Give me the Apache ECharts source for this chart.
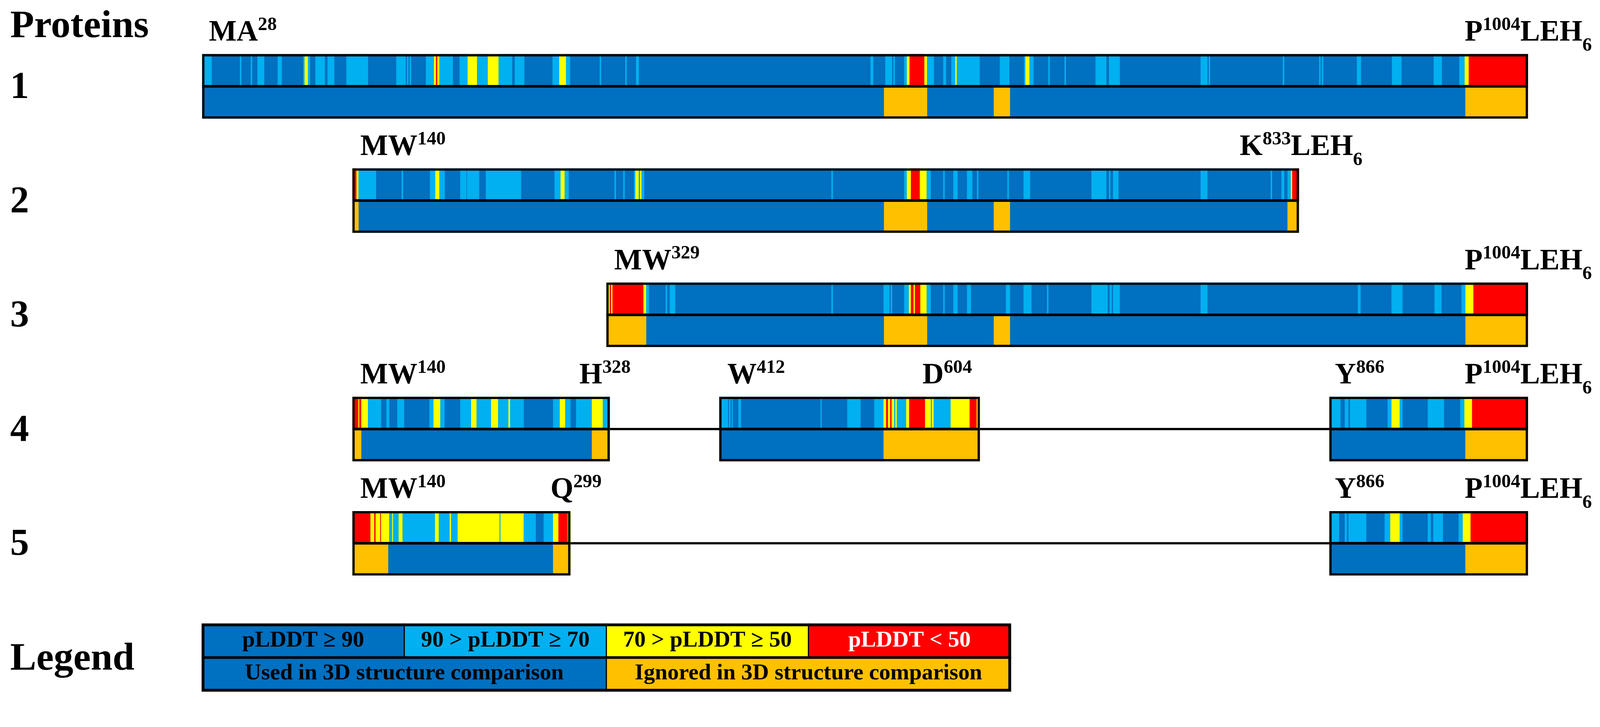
<!DOCTYPE html>
<html><head><meta charset="utf-8">
<script src="https://cdn.jsdelivr.net/npm/echarts@6/dist/echarts.min.js"></script>
<style>html,body{margin:0;padding:0;background:#fff;overflow:hidden;width:100%;height:100%}#c{width:100vw;height:100vh}</style>
</head><body><div id="c"></div>
<script>
// ---------------- DATA (residue numbers) ----------------
const rowTitles = ['1', '2', '3', '4', '5'];
// protein segments [start, end] per row
const segments1 = [[28, 1012]];
const segments2 = [[139.5, 842]];
const segments3 = [[328, 1012]];
const segments4 = [[139.5, 330.5], [411.8, 605.2], [864.6, 1012]];
const segments5 = [[139.5, 301.3], [864.6, 1012]];
// pLDDT stripes [start, end, level]  1: 90>p>=70, 2: 70>p>=50, 3: p<50 (rest is p>=90)
const plddt1 = [[28,35,1],[56,57,1],[64,65,1],[69,74,1],[84,87,1],[103,104,1],[104,106.5,2],[106.5,108,1],[112,119,1],[121,126,1],[135,151,1],[172,179,1],[180,181,1],[182,183,1],[194,200,1],[200,201.5,2],[201.5,202.5,3],[202.5,204,2],[204,214,1],[219,225,1],[225,232,2],[232,240,1],[240,248,2],[248,258,1],[260,267,1],[288,293,1],[293,298,2],[298,301,1],[323,324,1],[342,343,1],[350,352,1],[524,526,1],[535,540,1],[541,542,1],[549,551,1],[551,553,2],[553,564,3],[564,566,2],[566,571,1],[578,580,1],[584,587,1],[587,588,2],[588,605,1],[620,627,1],[638,639,1],[639,642,2],[642,645,1],[656,657,1],[668,669,1],[691,699,1],[701,709,1],[769,774,1],[775,776,1],[830,831,1],[857,858,1],[859,860,1],[885,888,1],[911,918,1],[942,948,1],[961,965,1],[965,968,2],[968,1012,3]];
const plddt2 = [[139.5,142.5,3],[142.5,144,2],[144,157,1],[176,177,1],[197,201,1],[201,204,2],[204,208,1],[219.5,224,1],[224.5,233.5,1],[238.5,264.6,1],[289.5,294,1],[294,297,2],[297,300,1],[334,335,1],[340.5,341.5,1],[348.5,349.5,1],[349.5,352,2],[352,353,1],[353,354,2],[354,356,1],[495,496,1],[549,551,1],[551,554,2],[554,560.6,3],[560.6,565.7,2],[565.7,568.7,1],[578,579,1],[585.5,588.6,1],[595.6,599.5,1],[603,604,1],[625.6,626.6,1],[637.6,642.4,1],[688,699,1],[701,702,1],[704,708,1],[769,774,1],[821,822,1],[829,831,1],[833.5,836,1],[836,837,2],[837,842,3]];
const plddt3 = [[328,330.5,2],[330.5,331.5,3],[331.5,332.5,2],[332.5,355.5,3],[355.5,357.5,2],[357.5,359.5,1],[372,373,1],[375,379,1],[495,496,1],[533.7,538,1],[539,540,1],[549,552.5,1],[552.5,554,2],[554,556,3],[556,557,2],[557,561,3],[561,565.7,2],[565.7,568.7,1],[578,579,1],[585.5,588.6,1],[595.6,598.5,1],[624.5,627.5,1],[637.6,643.4,1],[655,656,1],[688,700,1],[701.5,703,1],[704,709,1],[769,774,1],[885.7,887.7,1],[910.7,918.8,1],[942.6,947.7,1],[962.6,965.6,1],[965.6,971.5,2],[971.5,1012,3]];
const plddt4 = [[139.5,143.9,3],[143.9,144.6,2],[144.6,146,3],[146,151,2],[151,160.7,1],[164.7,166.8,1],[172.8,177.8,1],[196.6,199.7,1],[199.7,204.7,2],[204.7,207.8,1],[219.5,227.6,1],[227.6,231.6,2],[231.6,242.4,1],[242.4,247.6,2],[247.6,255.3,1],[255.3,256.5,2],[256.5,266.6,1],[288.4,293.4,1],[293.4,297.4,2],[297.4,301.3,1],[305.5,317.2,1],[317.2,325.3,2],[325.3,330.5,1],
  [411.8,418.2,1],[419,420.1,1],[421,421.7,1],[426,427.8,1],[486.9,487.7,1],[506.8,516.6,1],[526.8,533.7,1],[533.7,535.6,2],[535.6,537,3],[537,538.6,2],[538.6,539.7,3],[539.7,541.6,2],[541.6,542.5,1],[542.5,543.5,2],[543.5,550.5,1],[550.5,552.7,2],[552.7,564.5,3],[564.5,568.8,2],[568.8,569.6,1],[569.6,570.9,2],[570.9,583.5,1],[583.5,597.6,2],[597.6,602.8,3],[602.8,605.2,2],
  [864.6,872.8,1],[876,878.7,1],[879.9,891.9,1],[907.8,910.7,1],[910.7,916.8,2],[916.8,918.8,1],[937.6,949.6,1],[961.7,964.8,1],[964.8,970.5,2],[970.5,1012,3]];
const plddt5 = [[139.5,152.9,3],[152.9,155.7,2],[155.7,156.7,3],[156.7,160.1,2],[160.1,160.7,3],[160.7,166.8,2],[166.8,169,1],[169,169.7,2],[169.7,173.8,1],[173.8,176.7,2],[176.7,200.8,1],[200.8,203.6,2],[203.6,211.7,1],[211.7,212.7,2],[212.7,217.6,1],[217.6,248.7,2],[248.7,249.4,1],[249.4,266.6,2],[266.6,275.5,1],[281.4,288.4,1],[288.4,292.4,2],[292.4,299.3,3],[299.3,301.3,2],
  [864.6,871.7,1],[876,877.6,1],[878.7,891.9,1],[905.6,909.8,1],[909.8,916.8,2],[916.8,918.8,1],[937.6,939.8,1],[941.7,948.8,1],[960.5,963.6,1],[963.6,969.4,2],[969.4,1012,3]];
// regions ignored in 3D structure comparison [start, end]
const ignored1 = [[534,566],[615.5,627.5],[965.5,1012]];
const ignored2 = [[139.5,144],[534,566],[615.5,627.5],[833.5,842]];
const ignored3 = [[328,357.5],[534,566],[615.5,627.5],[965.6,1012]];
const ignored4 = [[139.5,146],[317.2,330.5],[533.7,605.2],[965.5,1012]];
const ignored5 = [[139.5,166],[288.4,301.3],[965.5,1012]];
// residue labels: [row, residue where the label starts, parts]
const labels = [
  [1, 33.0,  [['MA','m'],['28','sp']]],
  [1, 965.0, [['P','m'],['1004','sp'],['LEH','m'],['6','sb']]],
  [2, 145.3, [['MW','m'],['140','sp']]],
  [2, 798.1, [['K','m'],['833','sp'],['LEH','m'],['6','sb']]],
  [3, 333.8, [['MW','m'],['329','sp']]],
  [3, 965.0, [['P','m'],['1004','sp'],['LEH','m'],['6','sb']]],
  [4, 145.3, [['MW','m'],['140','sp']]],
  [4, 308.0, [['H','m'],['328','sp']]],
  [4, 417.8, [['W','m'],['412','sp']]],
  [4, 562.6, [['D','m'],['604','sp']]],
  [4, 868.7, [['Y','m'],['866','sp']]],
  [4, 965.0, [['P','m'],['1004','sp'],['LEH','m'],['6','sb']]],
  [5, 145.3, [['MW','m'],['140','sp']]],
  [5, 286.5, [['Q','m'],['299','sp']]],
  [5, 868.7, [['Y','m'],['866','sp']]],
  [5, 965.0, [['P','m'],['1004','sp'],['LEH','m'],['6','sb']]]
];
const legendRange = [28, 628];
const legendTopTexts = ['pLDDT ≥ 90', '90 > pLDDT ≥ 70', '70 > pLDDT ≥ 50', 'pLDDT < 50'];
const legendBottomTexts = ['Used in 3D structure comparison', 'Ignored in 3D structure comparison'];

// ---------------- STYLE ----------------
const COLORS = ['#0070C0', '#00B0F0', '#FFFF00', '#FF0000', '#FFC000'];
const FONT = '"Liberation Serif"';
const VW = window.innerWidth || 4242, VH = window.innerHeight || 1862;
const S = Math.min(VW / 4242, VH / 1862);
const px = v => v * S;
const HALF = px(85.5), LEG_HALF = px(89);

// ---------------- BUILD ----------------
const segAll = [segments1, segments2, segments3, segments4, segments5];
const plAll = [plddt1, plddt2, plddt3, plddt4, plddt5];
const igAll = [ignored1, ignored2, ignored3, ignored4, ignored5];
const stripeData = [], frameData = [], connData = [];
segAll.forEach((segs, i) => {
  const row = i + 1;
  segs.forEach(([s, e]) => { stripeData.push([s, e, row, 0, 0]); stripeData.push([s, e, row, 1, 0]); frameData.push([s, e, row, 0]); });
  plAll[i].forEach(([s, e, l]) => stripeData.push([s, e, row, 0, l]));
  igAll[i].forEach(([s, e]) => stripeData.push([s, e, row, 1, 4]));
  if (segs.length > 1) connData.push([segs[0][0], segs[segs.length - 1][1], row]);
});
const legendRow = 6;
const legendData = [];
const lw = (legendRange[1] - legendRange[0]);
legendTopTexts.forEach((t, i) => legendData.push([legendRange[0] + lw * i / 4, legendRange[0] + lw * (i + 1) / 4, 0, [0, 1, 2, 3][i], i]));
legendBottomTexts.forEach((t, i) => legendData.push([legendRange[0] + lw * i / 2, legendRange[0] + lw * (i + 1) / 2, 1, [0, 4][i], i]));
frameData.push([legendRange[0], legendRange[1], legendRow, 1]);
const titleData = rowTitles.map((t, i) => [28, i + 1]).concat([[28, legendRow]]);
const titleTexts = rowTitles.concat(['Legend']);
const labelData = labels.map(l => [l[1], l[0]]);

const rich = {
  m: { fontSize: px(78), fontWeight: 'bold', fontFamily: 'Liberation Serif', height: px(130), lineHeight: px(130), verticalAlign: 'middle', fill: '#000' },
  sp: { fontSize: px(50), fontWeight: 'bold', fontFamily: 'Liberation Serif', height: px(88), lineHeight: px(88), verticalAlign: 'top', fill: '#000' },
  sb: { fontSize: px(50), fontWeight: 'bold', fontFamily: 'Liberation Serif', height: px(62), lineHeight: px(62), verticalAlign: 'bottom', fill: '#000' }
};

const chart = echarts.init(document.getElementById('c'), null, { renderer: 'canvas' });
chart.setOption({
  backgroundColor: '#fff',
  animation: false,
  grid: { left: px(536), right: VW - px(4051), top: px(113.9), bottom: VH - px(1862 - 2.8) },
  xAxis: { type: 'value', min: 28, max: 1012, show: false },
  yAxis: { type: 'value', min: 0.62, max: 6.38, inverse: true, show: false },
  graphic: [{ type: 'text', x: px(27), y: px(72), z: 10,
    style: { text: 'Proteins', font: 'bold ' + px(104) + 'px ' + FONT, fill: '#000', verticalAlign: 'middle', align: 'left' } }],
  series: [
    { type: 'custom', z: 1, data: connData, renderItem: (p, api) => {
        const a = api.coord([api.value(0), api.value(2)]), b = api.coord([api.value(1), api.value(2)]);
        return { type: 'line', shape: { x1: a[0], y1: a[1], x2: b[0], y2: b[1] }, style: { stroke: '#000', lineWidth: px(6) } };
      } },
    { type: 'custom', z: 2, data: stripeData, renderItem: (p, api) => {
        const a = api.coord([api.value(0), api.value(2)]), b = api.coord([api.value(1), api.value(2)]);
        const c = a[1], band = api.value(3);
        return { type: 'rect', shape: { x: a[0], y: band === 0 ? c - HALF : c, width: b[0] - a[0] + 0.4, height: HALF },
          style: { fill: COLORS[api.value(4)] } };
      } },
    { type: 'custom', z: 3, data: legendData, renderItem: (p, api) => {
        const a = api.coord([api.value(0), legendRow]), b = api.coord([api.value(1), legendRow]);
        const c = a[1], band = api.value(2), ci = api.value(3), ti = api.value(4);
        const text = band === 0 ? legendTopTexts[ti] : legendBottomTexts[ti];
        return { type: 'group', children: [
          { type: 'rect', shape: { x: a[0], y: band === 0 ? c - LEG_HALF : c, width: b[0] - a[0], height: LEG_HALF },
            style: { fill: COLORS[ci], stroke: '#000', lineWidth: px(3) } },
          { type: 'text', style: { text: text, x: (a[0] + b[0]) / 2, y: band === 0 ? c - px(45) : c + px(42), align: 'center', verticalAlign: 'middle',
            font: 'bold ' + px(60) + 'px ' + FONT, fill: ci === 3 ? '#fff' : '#000' } }
        ] };
      } },
    { type: 'custom', z: 4, data: frameData, renderItem: (p, api) => {
        const a = api.coord([api.value(0), api.value(2)]), b = api.coord([api.value(1), api.value(2)]);
        const c = a[1], h = api.value(3) ? LEG_HALF : HALF, t = px(3);
        return { type: 'group', children: [
          { type: 'rect', shape: { x: a[0] + t, y: c - h + t, width: b[0] - a[0] - 2 * t, height: 2 * h - 2 * t }, style: { fill: 'none', stroke: '#000', lineWidth: 2 * t } },
          { type: 'line', shape: { x1: a[0], y1: c, x2: b[0], y2: c }, style: { stroke: '#000', lineWidth: px(7) } }
        ] };
      } },
    { type: 'custom', z: 5, data: labelData, renderItem: (p, api) => {
        const a = api.coord([api.value(0), api.value(1)]);
        const parts = labels[p.dataIndex][2];
        return { type: 'text', style: { text: parts.map(q => '{' + q[1] + '|' + q[0] + '}').join(''), rich: rich,
          x: a[0], y: a[1] - px(141), align: 'left', verticalAlign: 'middle' } };
      } },
    { type: 'custom', z: 5, data: titleData, renderItem: (p, api) => {
        const a = api.coord([api.value(0), api.value(1)]);
        const t = titleTexts[p.dataIndex];
        return { type: 'text', style: { text: t, x: px(27), y: a[1] + px(5), align: 'left', verticalAlign: 'middle',
          font: 'bold ' + px(t === 'Legend' ? 104 : 100) + 'px ' + FONT, fill: '#000' } };
      } }
  ]
});
</script></body></html>
